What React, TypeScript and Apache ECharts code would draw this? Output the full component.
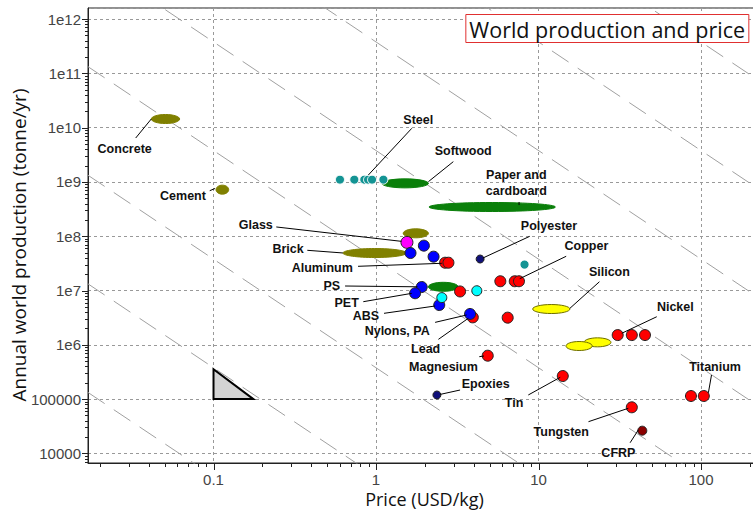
import React, { useEffect, useRef } from 'react';
import * as echarts from 'echarts';

// Axis extents (log axes)
const X_MIN = 0.01689;
const X_MAX = 211.8;
const Y_MIN = 6656;
const Y_MAX = 1.595e12;

const xTickValues = [0.1, 1, 10, 100];
const xTickLabels = ['0.1', '1', '10', '100'];
const yTickValues = [1e4, 1e5, 1e6, 1e7, 1e8, 1e9, 1e10, 1e11, 1e12];
const yTickLabels = ['10000', '100000', '1e6', '1e7', '1e8', '1e9', '1e10', '1e11', '1e12'];

const xAxisTitle = 'Price (USD/kg)';
const yAxisTitle = 'Annual world production (tonne/yr)';
const chartTitle = 'World production and price';

// Circles: [price USD/kg, production tonne/yr]
const redPoints = [
  [2.66, 3.25e7], [2.79, 3.25e7], [3.29, 9.6e6], [5.82, 1.48e7], [7.14, 1.48e7], [7.58, 1.48e7],
  [3.94, 3.2e6], [6.46, 3.16e6], [4.87, 6.3e5], [14.1, 2.66e5], [30.7, 1.51e6], [37.5, 1.51e6],
  [45.2, 1.51e6], [86.7, 1.14e5], [104, 1.14e5], [37.5, 7.06e4],
];
const darkRedPoints = [[43.5, 2.62e4]];
const bluePoints = [
  [1.63, 4.9e7], [1.97, 6.7e7], [2.26, 4.2e7], [1.91, 1.16e7], [1.74, 8.9e6], [2.45, 5.4e6], [3.79, 3.7e6],
];
const navyPoints = [[4.37, 3.8e7], [2.37, 1.19e5]];
const cyanPoints = [[4.17, 9.9e6], [2.54, 7.4e6]];
const magentaPoints = [[1.55, 7.7e7]];
const tealPoints = [
  [0.6, 1.1e9], [0.735, 1.1e9], [0.847, 1.1e9], [0.893, 1.1e9], [0.945, 1.1e9], [1.11, 1.1e9], [8.2, 3.0e7],
];

// Ellipses (ranges): [price low, price high, production]
const oliveRanges = [[0.0414, 0.0619, 1.44e10], [0.1036, 0.124, 7.2e8], [1.47, 2.1, 1.13e8], [0.626, 1.54, 4.9e7]];
const greenRanges = [[1.084, 2.1, 9.4e8], [2.12, 12.7, 3.45e8], [2.1, 3.2, 1.17e7]];
const yellowRanges = [[9.2, 15.6, 4.56e6], [19.05, 27.9, 1.11e6], [14.75, 21.4, 9.5e5]];

// Slope guide triangle
const trianglePoints = [[0.1, 1e5], [0.1, 3.54e5], [0.176, 1e5]];

// Constant-value guide lines: production * price^2 = C
const guideConstants = [37.8, 3.78e3, 3.78e5, 3.78e7, 3.78e9, 3.78e11, 3.78e13, 3.78e15];

// Annotations
const annotationNames = [
  'Concrete', 'Cement', 'Steel', 'Softwood', 'Paper and\ncardboard', 'Glass', 'Brick', 'Aluminum',
  'Polyester', 'Copper', 'Silicon', 'PS', 'PET', 'ABS', 'Nylons, PA', 'Lead', 'Magnesium', 'Epoxies',
  'Tin', 'Nickel', 'Titanium', 'Tungsten', 'CFRP',
];
const annotationLabelPos = [
  [0.0284, 4.04e9], [0.0649, 5.43e8], [1.82, 1.38e10], [3.44, 3.71e9], [7.3, 9.55e8], [0.182, 1.63e8],
  [0.2874, 5.89e7], [0.467, 2.59e7], [11.6, 1.52e8], [19.7, 6.52e7], [27.3, 2.22e7], [0.534, 1.21e7],
  [0.66, 5.81e6], [0.868, 3.39e6], [1.35, 1.82e6], [2.02, 8.26e5], [2.6, 3.85e5], [4.73, 1.9e5],
  [7.07, 8.38e4], [69.5, 5.04e6], [122, 3.85e5], [13.8, 2.45e4], [31.0, 1.03e4],
];
const leaderStart = [
  [0.0332, 6.43e9], [0.0948, 6.89e8], [1.66, 9.7e9], [2.99, 2.36e9], [7.59, 4.27e8], [0.2434, 1.48e8],
  [0.3778, 5.5e7], [0.775, 2.79e7], [8.83, 9.95e7], [14.8, 4.27e7], [23.7, 1.45e7], [0.645, 1.21e7],
  [0.835, 6.22e6], [1.12, 3.8e6], [2.31, 2.59e6], [2.42, 1.26e6], [4.32, 6.04e5], [3.29, 1.47e5],
  [8.65, 1.19e5], [53.4, 3.29e6], [116, 2.78e5], [20.3, 3.84e4], [36.6, 1.57e4],
];
const leaderEnd = [
  [0.0414, 1.44e10], [0.1021, 7.56e8], [0.897, 1.34e9], [2.1, 1.01e9], [7.59, 3.75e8], [1.43, 8.05e7],
  [0.626, 4.91e7], [2.54, 3.17e7], [4.55, 3.97e7], [7.66, 1.65e7], [15.6, 4.7e6], [1.8, 1.17e7],
  [1.66, 8.87e6], [2.31, 5.18e6], [3.61, 3.54e6], [3.7, 3.08e6], [4.62, 6.22e5], [2.48, 1.22e5],
  [13.6, 2.52e5], [32.5, 1.63e6], [111, 1.31e5], [35.7, 6.78e4], [41.1, 2.7e4],
];

function tickLabel(v: number, values: number[], labels: string[]) {
  const e = Math.log10(v);
  for (let i = 0; i < values.length; i++) {
    if (Math.abs(Math.log10(values[i]) - e) < 1e-6) return labels[i];
  }
  return '';
}

function ellipseSeries(data: number[][], fill: string, stroke: string) {
  return {
    type: 'custom',
    silent: true,
    clip: true,
    encode: { x: [0, 1], y: 2 },
    data,
    renderItem: (params: any, api: any) => {
      const p1 = api.coord([api.value(0), api.value(2)]);
      const p2 = api.coord([api.value(1), api.value(2)]);
      return {
        type: 'ellipse',
        shape: { cx: (p1[0] + p2[0]) / 2, cy: p1[1], rx: Math.abs(p2[0] - p1[0]) / 2, ry: 4.5 },
        style: { fill, stroke, lineWidth: 1 },
      };
    },
  };
}

function scatterSeries(data: number[][], color: string, size: number, border: string) {
  return {
    type: 'scatter',
    silent: true,
    data,
    symbol: 'circle',
    symbolSize: size,
    itemStyle: { color, borderColor: border, borderWidth: 1, opacity: 1 },
  };
}

export default function App() {
  const ref = useRef<HTMLDivElement>(null);

  useEffect(() => {
    if (!ref.current) return;
    const chart = echarts.init(ref.current, undefined, { renderer: 'svg' });

    // minor/major ticks (log-spaced decoration)
    const xTicks: number[][] = [];
    for (let d = -2; d <= 2; d++) {
      for (let m = 1; m <= 9; m++) {
        const v = m * Math.pow(10, d);
        if (v >= X_MIN && v <= X_MAX) xTicks.push([v, 1e8, m === 1 ? 7 : 4]);
      }
    }
    const yTicks: number[][] = [];
    for (let d = 3; d <= 12; d++) {
      for (let m = 1; m <= 9; m++) {
        const v = m * Math.pow(10, d);
        if (v >= Y_MIN && v <= Y_MAX) yTicks.push([1, v, m === 1 ? 6 : 3]);
      }
    }

    const guideSeries = guideConstants.map((c) => ({
      type: 'line',
      silent: true,
      clip: true,
      showSymbol: false,
      symbol: 'none',
      data: [[X_MIN, c / (X_MIN * X_MIN)], [X_MAX, c / (X_MAX * X_MAX)]],
      lineStyle: { color: '#a0a0a0', width: 1, type: [20, 11] },
      z: 1,
    }));

    const annotationData = annotationNames.map((_, i) => [
      annotationLabelPos[i][0], annotationLabelPos[i][1],
      leaderStart[i][0], leaderStart[i][1],
      leaderEnd[i][0], leaderEnd[i][1],
    ]);

    const option: any = {
      animation: false,
      title: {
        text: chartTitle,
        right: 4,
        top: 14,
        padding: [4, 4, 3, 4],
        borderColor: '#e03030',
        borderWidth: 1,
        backgroundColor: '#ffffff',
        textStyle: { fontFamily: 'Open Sans', fontSize: 21.5, fontWeight: 'normal', color: '#111' },
      },
      graphic: [
        {
          type: 'text',
          x: 424.5,
          y: 499,
          silent: true,
          style: {
            text: xAxisTitle,
            align: 'center',
            verticalAlign: 'middle',
            font: '18px "Open Sans", sans-serif',
            fill: '#111',
          },
        },
        {
          type: 'text',
          x: 19,
          y: 245,
          rotation: Math.PI / 2,
          silent: true,
          style: {
            text: yAxisTitle,
            align: 'center',
            verticalAlign: 'middle',
            font: '19px "Open Sans", sans-serif',
            fill: '#111',
          },
        },
      ],
      grid: {
        left: 88, top: 8, width: 666, height: 455,
        containLabel: false,
        outerBoundsMode: 'none',
        show: true, borderColor: '#222', borderWidth: 1, backgroundColor: 'transparent',
      },
      xAxis: {
        type: 'log',
        logBase: 10,
        min: X_MIN,
        max: X_MAX,
        axisLine: { show: true, lineStyle: { color: '#222' } },
        axisTick: { show: false },
        minorTick: { show: false },
        splitLine: { show: true, lineStyle: { color: '#999', type: [3, 3], width: 1 } },
        axisLabel: {
          fontFamily: 'Liberation Sans', fontSize: 15, color: '#444', margin: 9,
          formatter: (v: number) => tickLabel(v, xTickValues, xTickLabels),
        },
      },
      yAxis: {
        type: 'log',
        logBase: 10,
        min: Y_MIN,
        max: Y_MAX,
        axisLine: { show: true, lineStyle: { color: '#222' } },
        axisTick: { show: false },
        minorTick: { show: false },
        splitLine: { show: true, lineStyle: { color: '#999', type: [3, 3], width: 1 } },
        axisLabel: {
          fontFamily: 'Liberation Sans', fontSize: 15, color: '#444', margin: 7,
          formatter: (v: number) => tickLabel(v, yTickValues, yTickLabels),
        },
      },
      series: [
        ...guideSeries,
        {
          type: 'custom',
          silent: true,
          clip: false,
          data: xTicks,
          encode: { x: 0, y: 1 },
          renderItem: (params: any, api: any) => {
            const cs = params.coordSys;
            const p = api.coord([api.value(0), api.value(1)]);
            const x = Math.round(p[0]) + 0.5;
            const yb = cs.y + cs.height;
            return {
              type: 'line',
              shape: { x1: x, y1: yb, x2: x, y2: yb + api.value(2) },
              style: { stroke: '#222', lineWidth: 1 },
            };
          },
          z: 3,
        },
        {
          type: 'custom',
          silent: true,
          clip: false,
          data: yTicks,
          encode: { x: 0, y: 1 },
          renderItem: (params: any, api: any) => {
            const cs = params.coordSys;
            const p = api.coord([api.value(0), api.value(1)]);
            const y = Math.round(p[1]) + 0.5;
            return {
              type: 'line',
              shape: { x1: cs.x, y1: y, x2: cs.x - api.value(2), y2: y },
              style: { stroke: '#222', lineWidth: 1 },
            };
          },
          z: 3,
        },
        {
          type: 'custom',
          silent: true,
          clip: true,
          data: [trianglePoints.flat()],
          encode: { x: [0, 2, 4], y: [1, 3, 5] },
          renderItem: (params: any, api: any) => {
            const pts = [0, 1, 2].map((k) => api.coord([api.value(2 * k), api.value(2 * k + 1)]));
            return {
              type: 'polygon',
              shape: { points: pts },
              style: { fill: '#d3d3d3', stroke: '#000', lineWidth: 2 },
            };
          },
          z: 3,
        },
        ellipseSeries(oliveRanges, '#808000', '#808000'),
        ellipseSeries(greenRanges, '#0a7f0a', '#0a7f0a'),
        ellipseSeries(yellowRanges, '#ffff00', '#6f6f00'),
        scatterSeries(tealPoints, '#149494', 9, '#ffffff'),
        scatterSeries(magentaPoints, '#ff00ff', 12, '#222'),
        scatterSeries(redPoints, '#ff0000', 11, '#222'),
        scatterSeries(darkRedPoints, '#8b0000', 9, '#222'),
        scatterSeries(bluePoints, '#0000ff', 11, '#222'),
        scatterSeries(navyPoints, '#10107a', 8, '#222'),
        scatterSeries(cyanPoints, '#00ffff', 10, '#222'),
        {
          type: 'custom',
          silent: true,
          clip: false,
          data: annotationData,
          encode: { x: [0, 2, 4], y: [1, 3, 5] },
          renderItem: (params: any, api: any) => {
            const t = api.coord([api.value(0), api.value(1)]);
            const s = api.coord([api.value(2), api.value(3)]);
            const e = api.coord([api.value(4), api.value(5)]);
            return {
              type: 'group',
              children: [
                {
                  type: 'line',
                  shape: { x1: s[0], y1: s[1], x2: e[0], y2: e[1] },
                  style: { stroke: '#000', lineWidth: 1 },
                },
                {
                  type: 'text',
                  style: {
                    text: annotationNames[params.dataIndex],
                    x: t[0],
                    y: t[1],
                    align: 'center',
                    verticalAlign: 'middle',
                    font: 'bold 12.5px "Liberation Sans", Arial, sans-serif',
                    lineHeight: 16,
                    fill: '#111',
                  },
                },
              ],
            };
          },
          z: 10,
        },
      ],
    };

    chart.setOption(option);
    return () => chart.dispose();
  }, []);

  return (
    <div
      ref={ref}
      style={{ position: 'fixed', left: 0, top: 0, width: 753, height: 511, background: '#fff' }}
    />
  );
}
